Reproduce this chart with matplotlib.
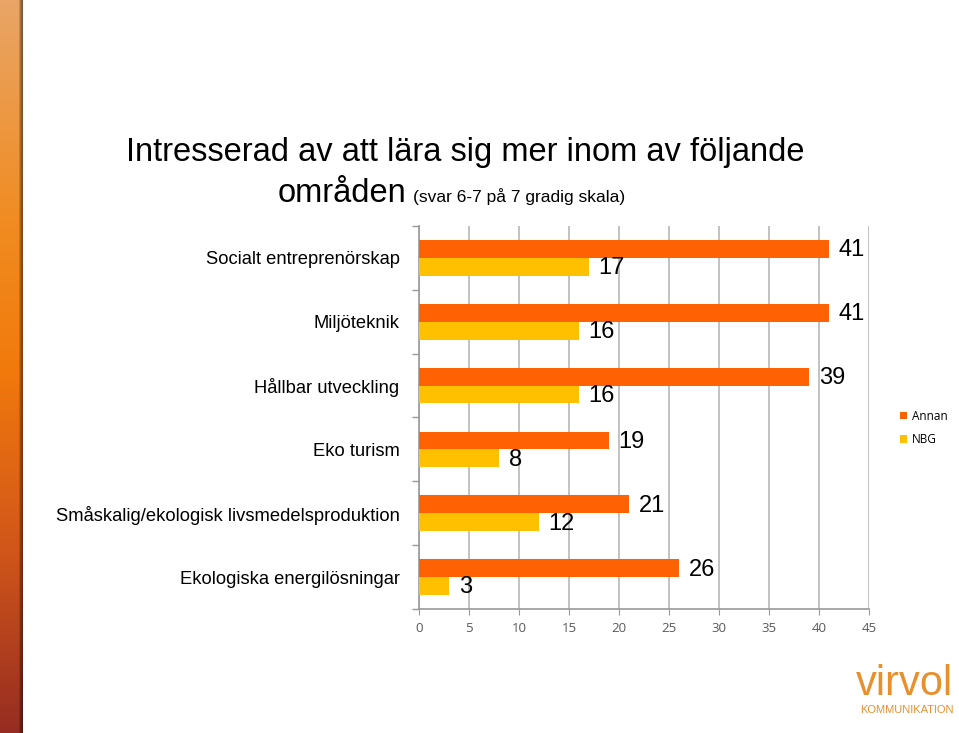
import matplotlib
matplotlib.use("Agg")
import matplotlib.pyplot as plt
import numpy as np
from matplotlib.colors import to_rgb

categories = [
    "Socialt entreprenörskap",
    "Miljöteknik",
    "Hållbar utveckling",
    "Eko turism",
    "Småskalig/ekologisk livsmedelsproduktion",
    "Ekologiska energilösningar",
]
annan = [41, 41, 39, 19, 21, 26]
nbg = [17, 16, 16, 8, 12, 3]
x_ticks = [0, 5, 10, 15, 20, 25, 30, 35, 40, 45]

c_annan = "#FF6103"
c_nbg = "#FFC000"
label_font = ["Liberation Sans", "DejaVu Sans"]
tick_font = ["Open Sans", "DejaVu Sans"]

W, H = 959, 733
fig = plt.figure(figsize=(W / 100, H / 100), dpi=100)

# decorative gradient strip on the left edge
strip_w = 23
stops = [0.0, 0.3, 0.5, 0.75, 1.0]
cols = [to_rgb(c) for c in ["#E9A567", "#F08C22", "#F27A0C", "#D0561A", "#962C22"]]
t = np.linspace(0, 1, H)
col = np.stack([np.interp(t, stops, [c[i] for c in cols]) for i in range(3)], axis=1)
shade = np.ones(strip_w)
shade[-4:] = [0.85, 0.7, 0.6, 0.55]
img = col[:, None, :] * shade[None, :, None]
sax = fig.add_axes([0, 0, strip_w / W, 1])
sax.imshow(img, aspect="auto")
sax.axis("off")

# main axes
left, right, top, bottom = 419, 869, 226, 609
ax = fig.add_axes([left / W, 1 - bottom / H, (right - left) / W, (bottom - top) / H])

n = len(categories)
y = np.arange(n)[::-1]
h = 0.28
b1 = ax.barh(y + h / 2, annan, height=h, color=c_annan, label="Annan", zorder=3)
b2 = ax.barh(y - h / 2, nbg, height=h, color=c_nbg, label="NBG", zorder=3)

for bars, vals in ((b1, annan), (b2, nbg)):
    for bar, v in zip(bars, vals):
        ax.annotate(str(v), (bar.get_width(), bar.get_y() + bar.get_height() / 2),
                    xytext=(7, -1), textcoords="offset points", ha="left", va="center",
                    fontsize=17, family=label_font, color="black")

ax.set_xlim(0, 45)
ax.set_ylim(-0.5, n - 0.5)
ax.set_xticks(x_ticks)
ax.set_xticklabels([str(v) for v in x_ticks], family=tick_font, fontsize=9.5, color="#595959")
ax.set_yticks(y)
ax.set_yticklabels(categories, family=label_font, fontsize=13.2, color="black")
ax.set_yticks(np.arange(n + 1) - 0.5, minor=True)
ax.tick_params(axis="y", which="major", length=0, pad=14)
ax.tick_params(axis="y", which="minor", length=5, color="#999999", width=1)
ax.tick_params(axis="x", length=4, color="#999999", pad=5)
ax.xaxis.grid(True, color="#B8B8B8", linewidth=1.2, zorder=0)
ax.set_axisbelow(True)
for s in ("top", "right"):
    ax.spines[s].set_visible(False)
for s in ("left", "bottom"):
    ax.spines[s].set_color("#999999")
    ax.spines[s].set_linewidth(1.2)

fig.legend(handles=[b1, b2], loc="upper left", bbox_to_anchor=(895 / W, 1 - 405 / H),
           frameon=False, prop={"family": tick_font, "size": 8.5}, handlelength=0.6,
           handleheight=0.6, handletextpad=0.4, labelspacing=0.9, borderaxespad=0)

# title
fig.text(465 / W, 1 - 153 / H, "Intresserad av att lära sig mer inom av följande",
         ha="center", va="center", fontsize=23.5, family=label_font)
fig.text(406 / W, 1 - 202 / H, "områden", ha="right", va="baseline",
         fontsize=23.5, family=label_font)
fig.text(413 / W, 1 - 202 / H, "(svar 6-7 på 7 gradig skala)", ha="left", va="baseline",
         fontsize=12.5, family=label_font)

# logo
fig.text(904 / W, 1 - 695 / H, "virvol", ha="center", va="baseline",
         fontsize=30, family=label_font, color="#E8902C")
fig.text(907 / W, 1 - 713 / H, "KOMMUNIKATION", ha="center", va="baseline",
         fontsize=8, family=label_font, color="#E8902C")

fig.savefig("out.png", dpi=100)
